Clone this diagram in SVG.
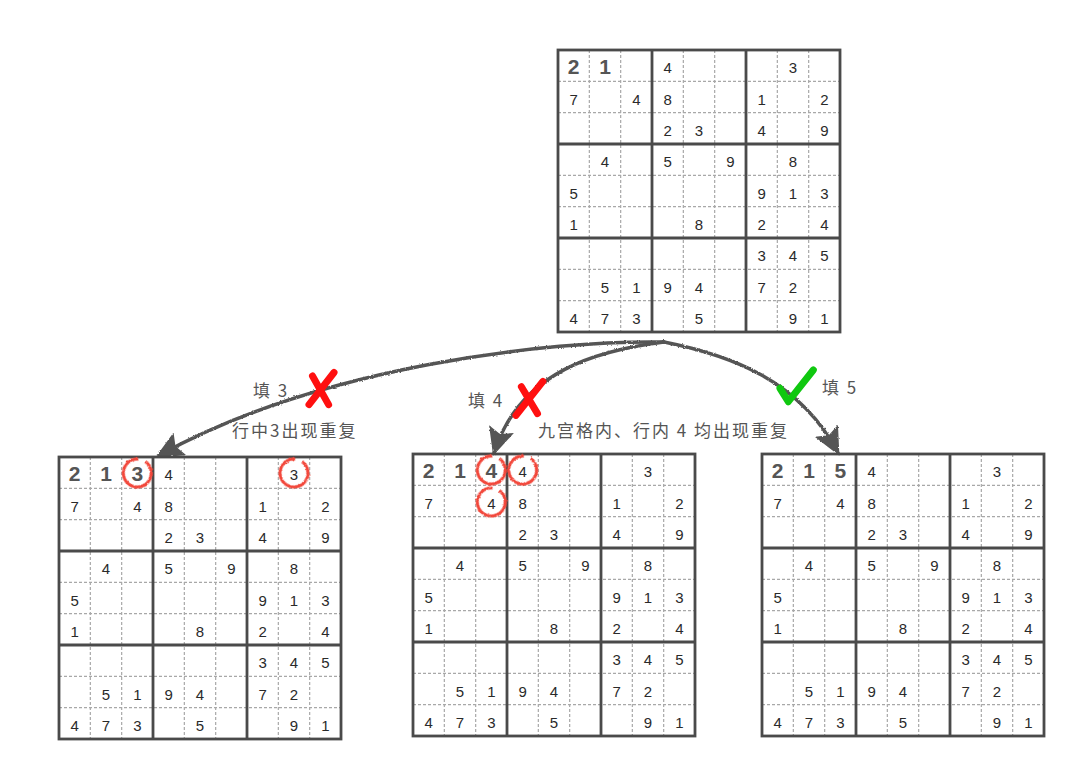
<svg xmlns="http://www.w3.org/2000/svg" xmlns:xlink="http://www.w3.org/1999/xlink" width="1080" height="775" viewBox="0 0 1080 775">
<style>
.thin{stroke:#a8a8a8;stroke-width:1.2;stroke-dasharray:3 2;fill:none}
.thick{stroke:#4a4a4a;stroke-width:2.8;fill:none}
.d{font-family:"Liberation Sans",Arial,sans-serif;font-size:15px;fill:#2a2a2a;text-anchor:middle}
.b{font-size:21px;font-weight:bold;fill:#555}
.lbl{font-family:"Noto Sans CJK SC",sans-serif;font-size:17px;fill:#555;letter-spacing:2px}
.circ{fill:none;stroke:#f2473a;stroke-width:3;stroke-dasharray:80 8}
.arrow{fill:none;stroke:#555;stroke-width:3.5;stroke-linecap:round}
.x{stroke:#ff1010;stroke-width:7;stroke-linecap:round;fill:none}
.ok{stroke:#10c810;stroke-width:7;stroke-linecap:round;stroke-linejoin:round;fill:none}
</style>
<defs>
<filter id="rough" x="-5%" y="-5%" width="110%" height="110%">
<feTurbulence type="fractalNoise" baseFrequency="0.6" numOctaves="2" seed="3"/>
<feDisplacementMap in="SourceGraphic" scale="2.4" xChannelSelector="R" yChannelSelector="G"/>
</filter>
<marker id="ah" markerUnits="userSpaceOnUse" markerWidth="28" markerHeight="26" viewBox="0 0 28 26" refX="25" refY="13" orient="auto">
<path d="M0,0 L28,13 L0,26 L5,13 z" fill="#555"/>
</marker>
<g id="lines">
<path class="thin" d="M31.33,0V282M62.67,0V282M125.33,0V282M156.67,0V282M219.33,0V282M250.67,0V282M0,31.33H282M0,62.67H282M0,125.33H282M0,156.67H282M0,219.33H282M0,250.67H282"/>
<path class="thick" d="M94,0V282M188,0V282M0,94H282M0,188H282"/>
<rect class="thick" x="0" y="0" width="282" height="282"/>
</g>
</defs>
<rect width="1080" height="775" fill="#fff"/>

<g id="connectors">
<path class="arrow" filter="url(#rough)" marker-end="url(#ah)" d="M664,342 C550,340 320,366 158,456"/>
<path class="arrow" filter="url(#rough)" marker-end="url(#ah)" d="M664,342 C600,350 520,370 494,453"/>
<path class="arrow" filter="url(#rough)" marker-end="url(#ah)" d="M664,342 C730,355 800,380 838,453"/>
<g id="mark-3">
<path class="x" d="M312.5,376 L328.6,404.6 M334,372.5 L309,404.6"/>
<text class="lbl" x="253" y="397">填 3</text>
<text class="lbl" x="232" y="437">行中3出现重复</text>
</g>
<g id="mark-4">
<path class="x" d="M521.4,386.8 L537.5,413.6 M542.9,381.4 L516,415.4"/>
<text class="lbl" x="468" y="407">填 4</text>
<text class="lbl" x="538" y="437">九宫格内、行内 4 均出现重复</text>
</g>
<g id="mark-5">
<path class="ok" d="M780,388.3 L788.3,401.7 L813.3,370"/>
<text class="lbl" x="822" y="394">填 5</text>
</g>
</g>

<g id="grid-top" transform="translate(558,50)">
<use xlink:href="#lines"/>
<text class="d b" x="15.7" y="23.5">2</text><text class="d b" x="47" y="23.5">1</text><text class="d" x="109.7" y="23.3">4</text><text class="d" x="235" y="23.3">3</text>
<text class="d" x="15.7" y="54.7">7</text><text class="d" x="78.3" y="54.7">4</text><text class="d" x="109.7" y="54.7">8</text><text class="d" x="203.7" y="54.7">1</text><text class="d" x="266.3" y="54.7">2</text>
<text class="d" x="109.7" y="86">2</text><text class="d" x="141" y="86">3</text><text class="d" x="203.7" y="86">4</text><text class="d" x="266.3" y="86">9</text>
<text class="d" x="47" y="117.3">4</text><text class="d" x="109.7" y="117.3">5</text><text class="d" x="172.3" y="117.3">9</text><text class="d" x="235" y="117.3">8</text>
<text class="d" x="15.7" y="148.7">5</text><text class="d" x="203.7" y="148.7">9</text><text class="d" x="235" y="148.7">1</text><text class="d" x="266.3" y="148.7">3</text>
<text class="d" x="15.7" y="180">1</text><text class="d" x="141" y="180">8</text><text class="d" x="203.7" y="180">2</text><text class="d" x="266.3" y="180">4</text>
<text class="d" x="203.7" y="211.3">3</text><text class="d" x="235" y="211.3">4</text><text class="d" x="266.3" y="211.3">5</text>
<text class="d" x="47" y="242.7">5</text><text class="d" x="78.3" y="242.7">1</text><text class="d" x="109.7" y="242.7">9</text><text class="d" x="141" y="242.7">4</text><text class="d" x="203.7" y="242.7">7</text><text class="d" x="235" y="242.7">2</text>
<text class="d" x="15.7" y="274">4</text><text class="d" x="47" y="274">7</text><text class="d" x="78.3" y="274">3</text><text class="d" x="141" y="274">5</text><text class="d" x="235" y="274">9</text><text class="d" x="266.3" y="274">1</text>
</g>

<g id="grid-fill-3" transform="translate(59,457)">
<use xlink:href="#lines"/>
<text class="d b" x="15.7" y="23.5">2</text><text class="d b" x="47" y="23.5">1</text><text class="d b" x="78.3" y="23.5">3</text><text class="d" x="109.7" y="23.3">4</text><text class="d" x="235" y="23.3">3</text>
<text class="d" x="15.7" y="54.7">7</text><text class="d" x="78.3" y="54.7">4</text><text class="d" x="109.7" y="54.7">8</text><text class="d" x="203.7" y="54.7">1</text><text class="d" x="266.3" y="54.7">2</text>
<text class="d" x="109.7" y="86">2</text><text class="d" x="141" y="86">3</text><text class="d" x="203.7" y="86">4</text><text class="d" x="266.3" y="86">9</text>
<text class="d" x="47" y="117.3">4</text><text class="d" x="109.7" y="117.3">5</text><text class="d" x="172.3" y="117.3">9</text><text class="d" x="235" y="117.3">8</text>
<text class="d" x="15.7" y="148.7">5</text><text class="d" x="203.7" y="148.7">9</text><text class="d" x="235" y="148.7">1</text><text class="d" x="266.3" y="148.7">3</text>
<text class="d" x="15.7" y="180">1</text><text class="d" x="141" y="180">8</text><text class="d" x="203.7" y="180">2</text><text class="d" x="266.3" y="180">4</text>
<text class="d" x="203.7" y="211.3">3</text><text class="d" x="235" y="211.3">4</text><text class="d" x="266.3" y="211.3">5</text>
<text class="d" x="47" y="242.7">5</text><text class="d" x="78.3" y="242.7">1</text><text class="d" x="109.7" y="242.7">9</text><text class="d" x="141" y="242.7">4</text><text class="d" x="203.7" y="242.7">7</text><text class="d" x="235" y="242.7">2</text>
<text class="d" x="15.7" y="274">4</text><text class="d" x="47" y="274">7</text><text class="d" x="78.3" y="274">3</text><text class="d" x="141" y="274">5</text><text class="d" x="235" y="274">9</text><text class="d" x="266.3" y="274">1</text>
<circle class="circ" filter="url(#rough)" cx="78.3" cy="16" r="14" transform="rotate(-55 78.3 16)"/>
<circle class="circ" filter="url(#rough)" cx="235" cy="16" r="14" transform="rotate(-55 235 16)"/>
</g>

<g id="grid-fill-4" transform="translate(413,454)">
<use xlink:href="#lines"/>
<text class="d b" x="15.7" y="23.5">2</text><text class="d b" x="47" y="23.5">1</text><text class="d b" x="78.3" y="23.5">4</text><text class="d" x="109.7" y="23.3">4</text><text class="d" x="235" y="23.3">3</text>
<text class="d" x="15.7" y="54.7">7</text><text class="d" x="78.3" y="54.7">4</text><text class="d" x="109.7" y="54.7">8</text><text class="d" x="203.7" y="54.7">1</text><text class="d" x="266.3" y="54.7">2</text>
<text class="d" x="109.7" y="86">2</text><text class="d" x="141" y="86">3</text><text class="d" x="203.7" y="86">4</text><text class="d" x="266.3" y="86">9</text>
<text class="d" x="47" y="117.3">4</text><text class="d" x="109.7" y="117.3">5</text><text class="d" x="172.3" y="117.3">9</text><text class="d" x="235" y="117.3">8</text>
<text class="d" x="15.7" y="148.7">5</text><text class="d" x="203.7" y="148.7">9</text><text class="d" x="235" y="148.7">1</text><text class="d" x="266.3" y="148.7">3</text>
<text class="d" x="15.7" y="180">1</text><text class="d" x="141" y="180">8</text><text class="d" x="203.7" y="180">2</text><text class="d" x="266.3" y="180">4</text>
<text class="d" x="203.7" y="211.3">3</text><text class="d" x="235" y="211.3">4</text><text class="d" x="266.3" y="211.3">5</text>
<text class="d" x="47" y="242.7">5</text><text class="d" x="78.3" y="242.7">1</text><text class="d" x="109.7" y="242.7">9</text><text class="d" x="141" y="242.7">4</text><text class="d" x="203.7" y="242.7">7</text><text class="d" x="235" y="242.7">2</text>
<text class="d" x="15.7" y="274">4</text><text class="d" x="47" y="274">7</text><text class="d" x="78.3" y="274">3</text><text class="d" x="141" y="274">5</text><text class="d" x="235" y="274">9</text><text class="d" x="266.3" y="274">1</text>
<circle class="circ" filter="url(#rough)" cx="78.3" cy="16" r="14" transform="rotate(-55 78.3 16)"/>
<circle class="circ" filter="url(#rough)" cx="109.7" cy="16" r="14" transform="rotate(-55 109.7 16)"/>
<circle class="circ" filter="url(#rough)" cx="78.3" cy="48" r="14" transform="rotate(-55 78.3 48)"/>
</g>

<g id="grid-fill-5" transform="translate(762,454)">
<use xlink:href="#lines"/>
<text class="d b" x="15.7" y="23.5">2</text><text class="d b" x="47" y="23.5">1</text><text class="d b" x="78.3" y="23.5">5</text><text class="d" x="109.7" y="23.3">4</text><text class="d" x="235" y="23.3">3</text>
<text class="d" x="15.7" y="54.7">7</text><text class="d" x="78.3" y="54.7">4</text><text class="d" x="109.7" y="54.7">8</text><text class="d" x="203.7" y="54.7">1</text><text class="d" x="266.3" y="54.7">2</text>
<text class="d" x="109.7" y="86">2</text><text class="d" x="141" y="86">3</text><text class="d" x="203.7" y="86">4</text><text class="d" x="266.3" y="86">9</text>
<text class="d" x="47" y="117.3">4</text><text class="d" x="109.7" y="117.3">5</text><text class="d" x="172.3" y="117.3">9</text><text class="d" x="235" y="117.3">8</text>
<text class="d" x="15.7" y="148.7">5</text><text class="d" x="203.7" y="148.7">9</text><text class="d" x="235" y="148.7">1</text><text class="d" x="266.3" y="148.7">3</text>
<text class="d" x="15.7" y="180">1</text><text class="d" x="141" y="180">8</text><text class="d" x="203.7" y="180">2</text><text class="d" x="266.3" y="180">4</text>
<text class="d" x="203.7" y="211.3">3</text><text class="d" x="235" y="211.3">4</text><text class="d" x="266.3" y="211.3">5</text>
<text class="d" x="47" y="242.7">5</text><text class="d" x="78.3" y="242.7">1</text><text class="d" x="109.7" y="242.7">9</text><text class="d" x="141" y="242.7">4</text><text class="d" x="203.7" y="242.7">7</text><text class="d" x="235" y="242.7">2</text>
<text class="d" x="15.7" y="274">4</text><text class="d" x="47" y="274">7</text><text class="d" x="78.3" y="274">3</text><text class="d" x="141" y="274">5</text><text class="d" x="235" y="274">9</text><text class="d" x="266.3" y="274">1</text>
</g>
</svg>
